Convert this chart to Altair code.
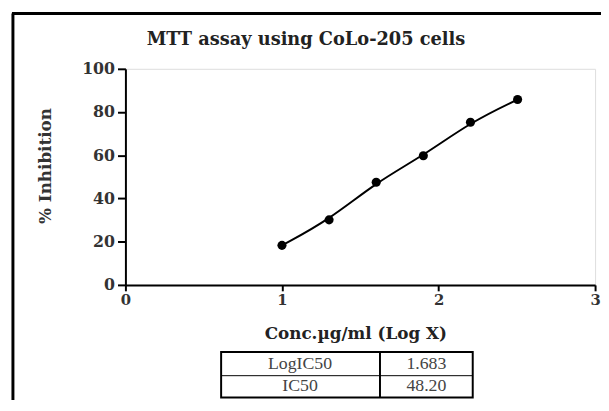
import altair as alt
import pandas as pd

# Data
log_conc = [1.0, 1.301, 1.602, 1.903, 2.204, 2.505]
inhibition = [18.3, 30.1, 47.5, 59.8, 75.3, 85.8]

table_labels = ["LogIC50", "IC50"]
table_values = ["1.683", "48.20"]

title_text = "MTT assay using CoLo-205 cells"
x_title = "Conc.µg/ml (Log X)"
y_title = "% Inhibition"

df = pd.DataFrame({"x": log_conc, "y": inhibition})

SERIF = "DejaVu Serif"
TSERIF = "Liberation Serif"

xscale = alt.Scale(domain=[0, 3], nice=False, zero=False)
yscale = alt.Scale(domain=[0, 100], nice=False)

xaxis = alt.Axis(
    values=[0, 1, 2, 3], format="d", grid=False, domainColor="black", domainWidth=2,
    tickColor="black", tickWidth=2, tickSize=6, labelFont=SERIF, labelFontWeight="bold",
    labelFontSize=15, labelColor="#333", labelPadding=2, labelFlush=False,
    title=x_title, titleFont=SERIF, titleFontWeight="bold", titleFontSize=17,
    titleColor="#222", titleX=233, titleY=54, titleBaseline="alphabetic",
    titleAnchor="middle", titleAlign="center",
)
yaxis = alt.Axis(
    values=[0, 20, 40, 60, 80, 100], grid=False, domainColor="black", domainWidth=2,
    tickColor="black", tickWidth=2, tickSize=8, labelFont=SERIF, labelFontWeight="bold",
    labelFontSize=16, labelColor="#333", labelPadding=3, labelFlush=False,
    title=y_title, titleFont=SERIF, titleFontWeight="bold", titleFontSize=17,
    titleColor="#333", titleX=-81, titleY=98, titleBaseline="middle",
    titleAnchor="middle", titleAlign="center", titleAngle=270,
)

base = alt.Chart(df)

line = base.mark_line(color="black", strokeWidth=2, interpolate="basis").encode(
    x=alt.X("x:Q", scale=xscale, axis=xaxis),
    y=alt.Y("y:Q", scale=yscale, axis=yaxis),
)
points = base.mark_circle(color="black", size=85, opacity=1).encode(
    x=alt.X("x:Q", scale=xscale),
    y=alt.Y("y:Q", scale=yscale),
)

one = pd.DataFrame({"a": [0]})
deco = alt.Chart(one)

title = deco.mark_text(
    text=title_text, font=SERIF, fontWeight="bold", fontSize=18, color="#222",
    align="center", baseline="alphabetic",
).encode(x=alt.value(183), y=alt.value(-24))

# frame (left and top edges)
frame_left = deco.mark_rule(color="black", strokeWidth=3).encode(
    x=alt.value(-114), y=alt.value(-56), y2=alt.value(400))
frame_top = deco.mark_rule(color="black", strokeWidth=3).encode(
    x=alt.value(-115), x2=alt.value(520), y=alt.value(-56))

# table box
tbl_box = deco.mark_rect(fill="white", stroke="black", strokeWidth=2).encode(
    x=alt.value(97), x2=alt.value(352), y=alt.value(287), y2=alt.value(333))
tbl_col = deco.mark_rule(color="black", strokeWidth=2).encode(
    x=alt.value(258), y=alt.value(287), y2=alt.value(333))
tbl_row = deco.mark_rule(color="black", strokeWidth=1).encode(
    x=alt.value(97), x2=alt.value(352), y=alt.value(311))

cells = []
row_y = [299, 322]
for i in range(2):
    cells.append(deco.mark_text(
        text=table_labels[i], font=TSERIF, fontSize=18, color="#444",
        align="center", baseline="middle").encode(x=alt.value(177), y=alt.value(row_y[i])))
    cells.append(deco.mark_text(
        text=table_values[i], font=TSERIF, fontSize=18, color="#444",
        align="center", baseline="middle").encode(x=alt.value(305), y=alt.value(row_y[i])))

chart = alt.layer(
    line, points, title, frame_left, frame_top, tbl_box, tbl_col, tbl_row, *cells
).properties(
    width=476, height=219,
    autosize=alt.AutoSizeParams(type="none"),
    padding={"left": 119, "top": 59, "right": 6, "bottom": 114},
).configure_view(stroke=None).configure(background="white")

chart.save("out.html", embed_options={"renderer": "svg", "actions": False})
